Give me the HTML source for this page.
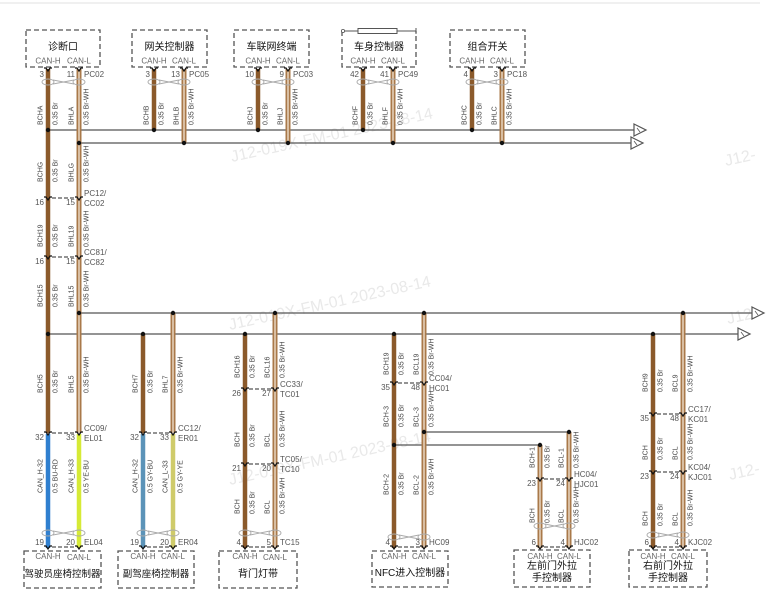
<!DOCTYPE html>
<html><head><meta charset="utf-8">
<style>
html,body{margin:0;padding:0;background:#fff;width:773px;height:607px;overflow:hidden;}
svg{display:block;}
text{font-family:"Liberation Sans","Noto Sans CJK SC",sans-serif;}
.p{font-size:8px;fill:#555;}
.l{font-size:7px;fill:#444;}
.t{font-size:10px;fill:#111;}
.c{font-size:8px;fill:#666;}
.w{font-size:16px;fill:#e9e9e9;}
.box{fill:none;stroke:#555;stroke-width:1.3;stroke-dasharray:5 3;}
.bus{stroke:#555;stroke-width:1.3;}
.br{stroke:#8b5a2b;stroke-width:4.5;}
.bw{stroke:#a9794a;stroke-width:5;}
.bwc{stroke:#f2e4d2;stroke-width:1.3;}
.cd{stroke:#555;stroke-width:1.2;stroke-dasharray:4 2;}
.tw{fill:none;stroke:#aaa;stroke-width:0.9;}
.ch{fill:none;stroke:#111;stroke-width:1.2;}
.ar{fill:#fff;stroke:#555;stroke-width:1.2;}
</style></head><body>
<svg width="773" height="607" viewBox="0 0 773 607" xmlns="http://www.w3.org/2000/svg" overflow="hidden">
<defs>
<path id="ch" class="ch" d="M-4 -1 h2 l2 3 l2 -3 h2"/>
</defs>
<line x1="0" y1="3" x2="760" y2="3" stroke="#e2e2e2" stroke-width="1"/>

<!-- watermarks -->
<text class="w" transform="translate(232,162) rotate(-12.3)">J12-019X-FM-01 2023-08-14</text>
<text class="w" transform="translate(230,330) rotate(-12.3)">J12-019X-FM-01 2023-08-14</text>
<text class="w" transform="translate(230,485) rotate(-12.3)">J12-019X-FM-01 2023-08-14</text>
<text class="w" transform="translate(726,166) rotate(-12.3)">J12-</text>
<text class="w" transform="translate(728,324) rotate(-12.3)">J12-</text>
<text class="w" transform="translate(730,480) rotate(-12.3)">J12-</text>

<!-- top boxes -->
<rect class="box" x="26" y="30" width="74" height="37"/>
<rect class="box" x="132" y="30" width="75" height="37"/>
<rect class="box" x="234" y="30" width="75" height="37"/>
<path class="box" d="M342 31 V67 H416 V31"/>
<line x1="344" y1="31" x2="416" y2="31" stroke="#555" stroke-width="1"/>
<circle cx="343" cy="31" r="1.6" fill="#fff" stroke="#555" stroke-width="0.8"/>
<line x1="416" y1="28" x2="416" y2="34" stroke="#555" stroke-width="1"/>
<rect x="358" y="28.5" width="39" height="5" fill="#fff" stroke="#555" stroke-width="1"/>
<rect class="box" x="450" y="30" width="75" height="37"/>

<text class="t" x="63" y="50" text-anchor="middle">诊断口</text>
<text class="t" x="169.5" y="50" text-anchor="middle">网关控制器</text>
<text class="t" x="271.5" y="50" text-anchor="middle">车联网终端</text>
<text class="t" x="379" y="50" text-anchor="middle">车身控制器</text>
<text class="t" x="487.5" y="50" text-anchor="middle">组合开关</text>

<g class="c" text-anchor="middle">
<text x="48" y="63.5">CAN-H</text><text x="79" y="63.5">CAN-L</text>
<text x="154" y="63.5">CAN-H</text><text x="184" y="63.5">CAN-L</text>
<text x="258" y="63.5">CAN-H</text><text x="288" y="63.5">CAN-L</text>
<text x="363" y="63.5">CAN-H</text><text x="393" y="63.5">CAN-L</text>
<text x="472" y="63.5">CAN-H</text><text x="502" y="63.5">CAN-L</text>
</g>

<!-- bottom boxes -->
<rect class="box" x="24" y="551" width="77" height="37"/>
<rect class="box" x="118" y="551" width="76" height="37"/>
<rect class="box" x="219" y="551" width="78" height="37"/>
<rect class="box" x="372" y="551" width="76" height="36"/>
<rect class="box" x="514" y="550" width="76" height="37"/>
<rect class="box" x="629" y="550" width="78" height="37"/>

<g class="c" text-anchor="middle">
<text x="48" y="559">CAN-H</text><text x="79" y="560">CAN-L</text>
<text x="143" y="559">CAN-H</text><text x="173" y="559">CAN-L</text>
<text x="245" y="559">CAN-H</text><text x="275" y="560">CAN-L</text>
<text x="394" y="559">CAN-H</text><text x="424" y="559">CAN-L</text>
<text x="540" y="559">CAN-H</text><text x="569" y="559">CAN-L</text>
<text x="653" y="559">CAN-H</text><text x="683" y="559">CAN-L</text>
</g>
<g class="t" text-anchor="middle">
<text x="62.5" y="577" style="font-size:9.5px">驾驶员座椅控制器</text>
<text x="156" y="577" style="font-size:9.5px">副驾座椅控制器</text>
<text x="258" y="577">背门灯带</text>
<text x="410" y="576">NFC进入控制器</text>
<text x="552" y="569">左前门外拉</text>
<text x="552" y="581">手控制器</text>
<text x="668" y="569">右前门外拉</text>
<text x="668" y="581">手控制器</text>
</g>

<!-- buses -->
<line class="bus" x1="48" y1="130" x2="634" y2="130"/>
<line class="bus" x1="79" y1="143" x2="631" y2="143"/>
<line class="bus" x1="79" y1="313" x2="752" y2="313"/>
<line class="bus" x1="48" y1="334" x2="738" y2="334"/>
<line class="bus" x1="424" y1="432" x2="569" y2="432"/>
<line class="bus" x1="394" y1="445" x2="540" y2="445"/>

<polygon class="ar" points="634,124 646,130 634,136"/>
<line x1="637" y1="128" x2="640" y2="132" stroke="#555" stroke-width="0.8"/>
<polygon class="ar" points="631,137 643,143 631,149"/>
<line x1="634" y1="141" x2="637" y2="145" stroke="#555" stroke-width="0.8"/>
<polygon class="ar" points="752,307 764,313 752,319"/>
<line x1="755" y1="311" x2="758" y2="315" stroke="#555" stroke-width="0.8"/>
<polygon class="ar" points="738,328 750,334 738,340"/>
<line x1="741" y1="332" x2="744" y2="336" stroke="#555" stroke-width="0.8"/>

<!-- wires: Br -->
<g class="br">
<line x1="48" y1="69" x2="48" y2="433"/>
<line x1="154" y1="69" x2="154" y2="130"/>
<line x1="258" y1="69" x2="258" y2="130"/>
<line x1="363" y1="69" x2="363" y2="130"/>
<line x1="472" y1="69" x2="472" y2="130"/>
<line x1="143" y1="334" x2="143" y2="433"/>
<line x1="245" y1="334" x2="245" y2="548"/>
<line x1="394" y1="334" x2="394" y2="548"/>
<line x1="653" y1="334" x2="653" y2="548"/>
</g>
<!-- wires: Br-WH -->
<g class="bw">
<line x1="79" y1="69" x2="79" y2="433"/>
<line x1="184" y1="69" x2="184" y2="143"/>
<line x1="288" y1="69" x2="288" y2="143"/>
<line x1="393" y1="69" x2="393" y2="143"/>
<line x1="502" y1="69" x2="502" y2="143"/>
<line x1="173" y1="313" x2="173" y2="433"/>
<line x1="275" y1="313" x2="275" y2="548"/>
<line x1="424" y1="313" x2="424" y2="548"/>
<line x1="540" y1="445" x2="540" y2="548"/>
<line x1="569" y1="432" x2="569" y2="548"/>
<line x1="683" y1="313" x2="683" y2="548"/>
</g>
<g class="bwc">
<line x1="79" y1="69" x2="79" y2="433"/>
<line x1="184" y1="69" x2="184" y2="143"/>
<line x1="288" y1="69" x2="288" y2="143"/>
<line x1="393" y1="69" x2="393" y2="143"/>
<line x1="502" y1="69" x2="502" y2="143"/>
<line x1="173" y1="313" x2="173" y2="433"/>
<line x1="275" y1="313" x2="275" y2="548"/>
<line x1="424" y1="313" x2="424" y2="548"/>
<line x1="540" y1="445" x2="540" y2="548"/>
<line x1="569" y1="432" x2="569" y2="548"/>
<line x1="683" y1="313" x2="683" y2="548"/>
</g>
<!-- coloured wires -->
<line x1="48" y1="434" x2="48" y2="548" stroke="#2f7fcf" stroke-width="4.5"/>
<line x1="79" y1="434" x2="79" y2="548" stroke="#d6ea36" stroke-width="4.5"/>
<line x1="143" y1="434" x2="143" y2="548" stroke="#5b93b8" stroke-width="4.5"/>
<line x1="173" y1="434" x2="173" y2="548" stroke="#cfcb6a" stroke-width="4.5"/>

<!-- dots -->
<g fill="#111">
<circle cx="48" cy="130" r="2.2"/><circle cx="154" cy="130" r="2.2"/><circle cx="258" cy="130" r="2.2"/><circle cx="363" cy="130" r="2.2"/><circle cx="472" cy="130" r="2.2"/>
<circle cx="79" cy="143" r="2.2"/><circle cx="184" cy="143" r="2.2"/><circle cx="288" cy="143" r="2.2"/><circle cx="393" cy="143" r="2.2"/><circle cx="502" cy="143" r="2.2"/>
<circle cx="79" cy="313" r="2.2"/><circle cx="173" cy="313" r="2.2"/><circle cx="275" cy="313" r="2.2"/><circle cx="424" cy="313" r="2.2"/><circle cx="683" cy="313" r="2.2"/>
<circle cx="48" cy="334" r="2.2"/><circle cx="143" cy="334" r="2.2"/><circle cx="245" cy="334" r="2.2"/><circle cx="394" cy="334" r="2.2"/><circle cx="653" cy="334" r="2.2"/>
<circle cx="424" cy="432" r="2.2"/><circle cx="569" cy="432" r="2.2"/><circle cx="394" cy="445" r="2.2"/><circle cx="540" cy="445" r="2.2"/>
</g>

<!-- twists -->
<g class="tw">
<ellipse cx="48" cy="82" rx="6" ry="3"/><ellipse cx="79" cy="82" rx="6" ry="3"/><path d="M53 80 L74 84 M53 84 L74 80"/>
<ellipse cx="154" cy="82" rx="6" ry="3"/><ellipse cx="184" cy="82" rx="6" ry="3"/><path d="M159 80 L179 84 M159 84 L179 80"/>
<ellipse cx="258" cy="82" rx="6" ry="3"/><ellipse cx="288" cy="82" rx="6" ry="3"/><path d="M263 80 L283 84 M263 84 L283 80"/>
<ellipse cx="363" cy="82" rx="6" ry="3"/><ellipse cx="393" cy="82" rx="6" ry="3"/><path d="M368 80 L388 84 M368 84 L388 80"/>
<ellipse cx="472" cy="82" rx="6" ry="3"/><ellipse cx="502" cy="82" rx="6" ry="3"/><path d="M477 80 L497 84 M477 84 L497 80"/>
<ellipse cx="48" cy="533" rx="6" ry="3"/><ellipse cx="79" cy="533" rx="6" ry="3"/><path d="M53 531 L74 535 M53 535 L74 531"/>
<ellipse cx="143" cy="533" rx="6" ry="3"/><ellipse cx="173" cy="533" rx="6" ry="3"/><path d="M148 531 L168 535 M148 535 L168 531"/>
<ellipse cx="245" cy="533" rx="6" ry="3"/><ellipse cx="275" cy="533" rx="6" ry="3"/><path d="M250 531 L270 535 M250 535 L270 531"/>
<ellipse cx="394" cy="537" rx="6" ry="3"/><ellipse cx="424" cy="537" rx="6" ry="3"/><path d="M399 535 L419 539 M399 539 L419 535"/>
<ellipse cx="540" cy="526" rx="6" ry="3"/><ellipse cx="569" cy="526" rx="6" ry="3"/><path d="M545 524 L564 528 M545 528 L564 524"/>
<ellipse cx="653" cy="535" rx="6" ry="3"/><ellipse cx="683" cy="535" rx="6" ry="3"/><path d="M658 533 L678 537 M658 537 L678 533"/>
</g>

<!-- connector dashed lines -->
<g class="cd">
<line x1="52" y1="198" x2="75" y2="198"/>
<line x1="52" y1="257" x2="75" y2="257"/>
<line x1="52" y1="433" x2="75" y2="433"/>
<line x1="147" y1="433" x2="169" y2="433"/>
<line x1="249" y1="389" x2="271" y2="389"/>
<line x1="249" y1="464" x2="271" y2="464"/>
<line x1="398" y1="383" x2="420" y2="383"/>
<line x1="544" y1="479" x2="565" y2="479"/>
<line x1="657" y1="414" x2="679" y2="414"/>
<line x1="657" y1="472" x2="679" y2="472"/>
<line x1="52" y1="547" x2="75" y2="547"/>
<line x1="147" y1="547" x2="169" y2="547"/>
<line x1="249" y1="547" x2="271" y2="547"/>
<line x1="398" y1="547" x2="420" y2="547"/>
<line x1="544" y1="547" x2="565" y2="547"/>
<line x1="657" y1="547" x2="679" y2="547"/>
</g>

<!-- chevrons -->
<g>
<use href="#ch" x="48" y="69"/><use href="#ch" x="79" y="69"/>
<use href="#ch" x="154" y="69"/><use href="#ch" x="184" y="69"/>
<use href="#ch" x="258" y="69"/><use href="#ch" x="288" y="69"/>
<use href="#ch" x="363" y="69"/><use href="#ch" x="393" y="69"/>
<use href="#ch" x="472" y="69"/><use href="#ch" x="502" y="69"/>
<use href="#ch" x="48" y="198"/><use href="#ch" x="79" y="198"/>
<use href="#ch" x="48" y="257"/><use href="#ch" x="79" y="257"/>
<use href="#ch" x="48" y="433"/><use href="#ch" x="79" y="433"/>
<use href="#ch" x="143" y="433"/><use href="#ch" x="173" y="433"/>
<use href="#ch" x="245" y="389"/><use href="#ch" x="275" y="389"/>
<use href="#ch" x="245" y="464"/><use href="#ch" x="275" y="464"/>
<use href="#ch" x="394" y="383"/><use href="#ch" x="424" y="383"/>
<use href="#ch" x="540" y="479"/><use href="#ch" x="569" y="479"/>
<use href="#ch" x="653" y="414"/><use href="#ch" x="683" y="414"/>
<use href="#ch" x="653" y="472"/><use href="#ch" x="683" y="472"/>
<use href="#ch" x="48" y="547"/><use href="#ch" x="79" y="547"/>
<use href="#ch" x="143" y="547"/><use href="#ch" x="173" y="547"/>
<use href="#ch" x="245" y="547"/><use href="#ch" x="275" y="547"/>
<use href="#ch" x="394" y="547"/><use href="#ch" x="424" y="547"/>
<use href="#ch" x="540" y="547"/><use href="#ch" x="569" y="547"/>
<use href="#ch" x="653" y="547"/><use href="#ch" x="683" y="547"/>
</g>

<!-- pin labels -->
<g class="p">
<g text-anchor="end">
<text x="44" y="77">3</text><text x="75" y="77">11</text>
<text x="150" y="77">3</text><text x="180" y="77">13</text>
<text x="254" y="77">10</text><text x="284" y="77">9</text>
<text x="359" y="77">42</text><text x="389" y="77">41</text>
<text x="468" y="77">4</text><text x="498" y="77">3</text>
<text x="44" y="205">16</text><text x="75" y="205">15</text>
<text x="44" y="264">16</text><text x="75" y="264">15</text>
<text x="44" y="440">32</text><text x="75" y="440">33</text>
<text x="139" y="440">32</text><text x="169" y="440">33</text>
<text x="241" y="396">26</text><text x="271" y="396">27</text>
<text x="241" y="471">21</text><text x="271" y="471">20</text>
<text x="390" y="390">35</text><text x="420" y="390">48</text>
<text x="536" y="486">23</text><text x="565" y="486">24</text>
<text x="649" y="421">35</text><text x="679" y="421">48</text>
<text x="649" y="479">23</text><text x="679" y="479">24</text>
<text x="44" y="545">19</text><text x="75" y="545">20</text>
<text x="139" y="545">19</text><text x="169" y="545">20</text>
<text x="241" y="545">4</text><text x="271" y="545">5</text>
<text x="390" y="545">4</text><text x="420" y="545">3</text>
<text x="536" y="545">6</text><text x="565" y="545">4</text>
<text x="649" y="545">6</text><text x="679" y="545">4</text>
</g>
<text x="84" y="77">PC02</text>
<text x="189" y="77">PC05</text>
<text x="293" y="77">PC03</text>
<text x="398" y="77">PC49</text>
<text x="507" y="77">PC18</text>
<text x="84" y="196">PC12/</text><text x="84" y="206">CC02</text>
<text x="84" y="255">CC81/</text><text x="84" y="265">CC82</text>
<text x="84" y="431">CC09/</text><text x="84" y="441">EL01</text>
<text x="178" y="431">CC12/</text><text x="178" y="441">ER01</text>
<text x="280" y="387">CC33/</text><text x="280" y="397">TC01</text>
<text x="280" y="462">TC05/</text><text x="280" y="472">TC10</text>
<text x="429" y="381">CC04/</text><text x="429" y="391">HC01</text>
<text x="574" y="477">HC04/</text><text x="574" y="487">HJC01</text>
<text x="688" y="412">CC17/</text><text x="688" y="422">KC01</text>
<text x="688" y="470">KC04/</text><text x="688" y="480">KJC01</text>
<text x="84" y="545">EL04</text>
<text x="178" y="545">ER04</text>
<text x="280" y="545">TC15</text>
<text x="429" y="545">HC09</text>
<text x="574" y="545">HJC02</text>
<text x="688" y="545">KJC02</text>
</g>

<!-- vertical wire labels -->
<g class="l">
<text transform="translate(42.5,125) rotate(-90)">BCHA</text>
<text transform="translate(57.5,125) rotate(-90)">0.35 Br</text>
<text transform="translate(73.5,125) rotate(-90)">BHLA</text>
<text transform="translate(88.5,125) rotate(-90)">0.35 Br-WH</text>
<text transform="translate(148.5,125) rotate(-90)">BCHB</text>
<text transform="translate(163.5,125) rotate(-90)">0.35 Br</text>
<text transform="translate(178.5,125) rotate(-90)">BHLB</text>
<text transform="translate(193.5,125) rotate(-90)">0.35 Br-WH</text>
<text transform="translate(252.5,125) rotate(-90)">BCHJ</text>
<text transform="translate(267.5,125) rotate(-90)">0.35 Br</text>
<text transform="translate(282.5,125) rotate(-90)">BHLJ</text>
<text transform="translate(297.5,125) rotate(-90)">0.35 Br-WH</text>
<text transform="translate(357.5,125) rotate(-90)">BCHF</text>
<text transform="translate(372.5,125) rotate(-90)">0.35 Br</text>
<text transform="translate(387.5,125) rotate(-90)">BHLF</text>
<text transform="translate(402.5,125) rotate(-90)">0.35 Br-WH</text>
<text transform="translate(466.5,125) rotate(-90)">BCHC</text>
<text transform="translate(481.5,125) rotate(-90)">0.35 Br</text>
<text transform="translate(496.5,125) rotate(-90)">BHLC</text>
<text transform="translate(511.5,125) rotate(-90)">0.35 Br-WH</text>

<text transform="translate(42.5,182) rotate(-90)">BCHG</text>
<text transform="translate(57.5,182) rotate(-90)">0.35 Br</text>
<text transform="translate(73.5,182) rotate(-90)">BHLG</text>
<text transform="translate(88.5,182) rotate(-90)">0.35 Br-WH</text>
<text transform="translate(42.5,247) rotate(-90)">BCH19</text>
<text transform="translate(57.5,247) rotate(-90)">0.35 Br</text>
<text transform="translate(73.5,247) rotate(-90)">BHL19</text>
<text transform="translate(88.5,247) rotate(-90)">0.35 Br-WH</text>
<text transform="translate(42.5,307) rotate(-90)">BCH15</text>
<text transform="translate(57.5,307) rotate(-90)">0.35 Br</text>
<text transform="translate(73.5,307) rotate(-90)">BHL15</text>
<text transform="translate(88.5,307) rotate(-90)">0.35 Br-WH</text>
<text transform="translate(42.5,393) rotate(-90)">BCH5</text>
<text transform="translate(57.5,393) rotate(-90)">0.35 Br</text>
<text transform="translate(73.5,393) rotate(-90)">BHL5</text>
<text transform="translate(88.5,393) rotate(-90)">0.35 Br-WH</text>
<text transform="translate(42.5,493) rotate(-90)">CAN_H-32</text>
<text transform="translate(57.5,493) rotate(-90)">0.5 BU-RD</text>
<text transform="translate(73.5,493) rotate(-90)">CAN_H-33</text>
<text transform="translate(88.5,493) rotate(-90)">0.5 YE-BU</text>

<text transform="translate(137.5,393) rotate(-90)">BCH7</text>
<text transform="translate(152.5,393) rotate(-90)">0.35 Br</text>
<text transform="translate(167.5,393) rotate(-90)">BHL7</text>
<text transform="translate(182.5,393) rotate(-90)">0.35 Br-WH</text>
<text transform="translate(137.5,493) rotate(-90)">CAN_H-32</text>
<text transform="translate(152.5,493) rotate(-90)">0.5 GY-BU</text>
<text transform="translate(167.5,493) rotate(-90)">CAN_L-33</text>
<text transform="translate(182.5,493) rotate(-90)">0.5 GY-YE</text>

<text transform="translate(239.5,378) rotate(-90)">BCH16</text>
<text transform="translate(254.5,378) rotate(-90)">0.35 Br</text>
<text transform="translate(269.5,378) rotate(-90)">BCL16</text>
<text transform="translate(284.5,378) rotate(-90)">0.35 Br-WH</text>
<text transform="translate(239.5,447) rotate(-90)">BCH</text>
<text transform="translate(254.5,447) rotate(-90)">0.35 Br</text>
<text transform="translate(269.5,447) rotate(-90)">BCL</text>
<text transform="translate(284.5,447) rotate(-90)">0.35 Br-WH</text>
<text transform="translate(239.5,514) rotate(-90)">BCH</text>
<text transform="translate(254.5,514) rotate(-90)">0.35 Br</text>
<text transform="translate(269.5,514) rotate(-90)">BCL</text>
<text transform="translate(284.5,514) rotate(-90)">0.35 Br-WH</text>

<text transform="translate(388.5,375) rotate(-90)">BCH19</text>
<text transform="translate(403.5,375) rotate(-90)">0.35 Br</text>
<text transform="translate(418.5,375) rotate(-90)">BCL19</text>
<text transform="translate(433.5,375) rotate(-90)">0.35 Br-WH</text>
<text transform="translate(388.5,427) rotate(-90)">BCH-3</text>
<text transform="translate(403.5,427) rotate(-90)">0.35 Br</text>
<text transform="translate(418.5,427) rotate(-90)">BCL-3</text>
<text transform="translate(433.5,427) rotate(-90)">0.35 Br-WH</text>
<text transform="translate(388.5,495) rotate(-90)">BCH-2</text>
<text transform="translate(403.5,495) rotate(-90)">0.35 Br</text>
<text transform="translate(418.5,495) rotate(-90)">BCL-2</text>
<text transform="translate(433.5,495) rotate(-90)">0.35 Br-WH</text>

<text transform="translate(534.5,468) rotate(-90)">BCH-1</text>
<text transform="translate(549.5,468) rotate(-90)">0.35 Br</text>
<text transform="translate(563.5,468) rotate(-90)">BCL-1</text>
<text transform="translate(578.5,468) rotate(-90)">0.35 Br-WH</text>
<text transform="translate(534.5,523) rotate(-90)">BCH</text>
<text transform="translate(549.5,523) rotate(-90)">0.35 Br</text>
<text transform="translate(563.5,523) rotate(-90)">BCL</text>
<text transform="translate(578.5,523) rotate(-90)">0.35 Br-WH</text>

<text transform="translate(647.5,392) rotate(-90)">BCH9</text>
<text transform="translate(662.5,392) rotate(-90)">0.35 Br</text>
<text transform="translate(677.5,392) rotate(-90)">BCL9</text>
<text transform="translate(692.5,392) rotate(-90)">0.35 Br-WH</text>
<text transform="translate(647.5,460) rotate(-90)">BCH</text>
<text transform="translate(662.5,460) rotate(-90)">0.35 Br</text>
<text transform="translate(677.5,460) rotate(-90)">BCL</text>
<text transform="translate(692.5,460) rotate(-90)">0.35 Br-WH</text>
<text transform="translate(647.5,526) rotate(-90)">BCH</text>
<text transform="translate(662.5,526) rotate(-90)">0.35 Br</text>
<text transform="translate(677.5,526) rotate(-90)">BCL</text>
<text transform="translate(692.5,526) rotate(-90)">0.35 Br-WH</text>
</g>
</svg>
</body></html>
